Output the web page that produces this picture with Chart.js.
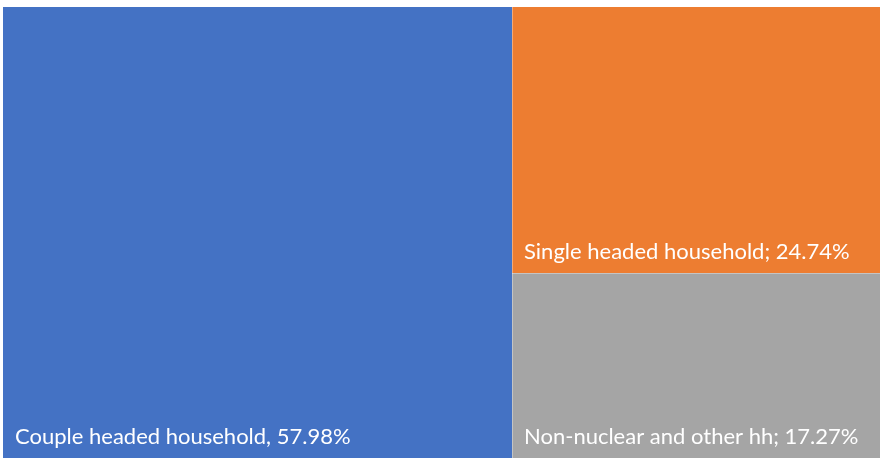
<!DOCTYPE html>
<html>
<head>
<meta charset="utf-8">
<style>
  html, body { margin: 0; padding: 0; background: #ffffff; }
  #wrap { width: 880px; height: 458px; }
</style>
<script src="https://cdn.jsdelivr.net/npm/chart.js@4/dist/chart.umd.min.js"></script>
</head>
<body>
<div id="wrap"><canvas id="c"></canvas></div>
<script>
// Household types and their shares (%)
const categories = ['Couple headed household', 'Single headed household', 'Non-nuclear and other hh'];
const shares = [57.98, 24.74, 17.27];
const separators = [', ', '; ', '; '];
const colors = ['#4472C4', '#ED7D31', '#A5A5A5'];

const total = shares.reduce((a, b) => a + b, 0);
const restTotal = total - shares[0];

// Tile rectangles in data units: x spans 0..total, y spans 0..100 (top = 100)
function tiles() {
  const out = [];
  const firstW = shares[0];
  out.push({ x0: 0, x1: firstW, y0: 0, y1: 100, i: 0 });
  let top = 100;
  for (let i = 1; i < shares.length; i++) {
    const h = shares[i] / restTotal * 100;
    out.push({ x0: firstW, x1: total, y0: top - h, y1: top, i });
    top -= h;
  }
  return out;
}

const treemapPlugin = {
  id: 'treemapTiles',
  afterDatasetsDraw(chart) {
    const { ctx, scales: { x, y } } = chart;
    ctx.save();
    const rects = tiles().map(t => ({
      i: t.i,
      left: Math.round(x.getPixelForValue(t.x0)),
      right: Math.round(x.getPixelForValue(t.x1)),
      top: Math.round(y.getPixelForValue(t.y1)),
      bottom: Math.round(y.getPixelForValue(t.y0))
    }));
    rects.forEach(r => {
      ctx.fillStyle = colors[r.i];
      ctx.fillRect(r.left, r.top, r.right - r.left, r.bottom - r.top);
    });
    // faint separators along the shared tile edges
    ctx.strokeStyle = 'rgba(255,255,255,0.35)';
    ctx.lineWidth = 1;
    rects.forEach(r => {
      if (r.left > chart.chartArea.left + 1) {
        ctx.beginPath();
        ctx.moveTo(r.left + 0.5, r.top);
        ctx.lineTo(r.left + 0.5, r.bottom);
        ctx.stroke();
      }
      if (r.top > chart.chartArea.top + 1) {
        ctx.beginPath();
        ctx.moveTo(r.left, r.top + 0.5);
        ctx.lineTo(r.right, r.top + 0.5);
        ctx.stroke();
      }
    });
    ctx.fillStyle = '#ffffff';
    ctx.font = '22px Lato';
    ctx.textBaseline = 'alphabetic';
    ctx.textAlign = 'left';
    rects.forEach(r => {
      ctx.fillText(categories[r.i] + separators[r.i] + shares[r.i].toFixed(2) + '%', r.left + 12, r.bottom - 14);
    });
    ctx.restore();
  }
};

new Chart(document.getElementById('c'), {
  type: 'scatter',
  data: { datasets: [{ data: [] }] },
  options: {
    responsive: true,
    maintainAspectRatio: false,
    animation: false,
    layout: { padding: { left: 3, top: 7, right: 0, bottom: 0 } },
    plugins: { legend: { display: false }, tooltip: { enabled: false } },
    scales: {
      x: { type: 'linear', min: 0, max: total, display: false },
      y: { type: 'linear', min: 0, max: 100, display: false }
    }
  },
  plugins: [treemapPlugin]
});
</script>
</body>
</html>
